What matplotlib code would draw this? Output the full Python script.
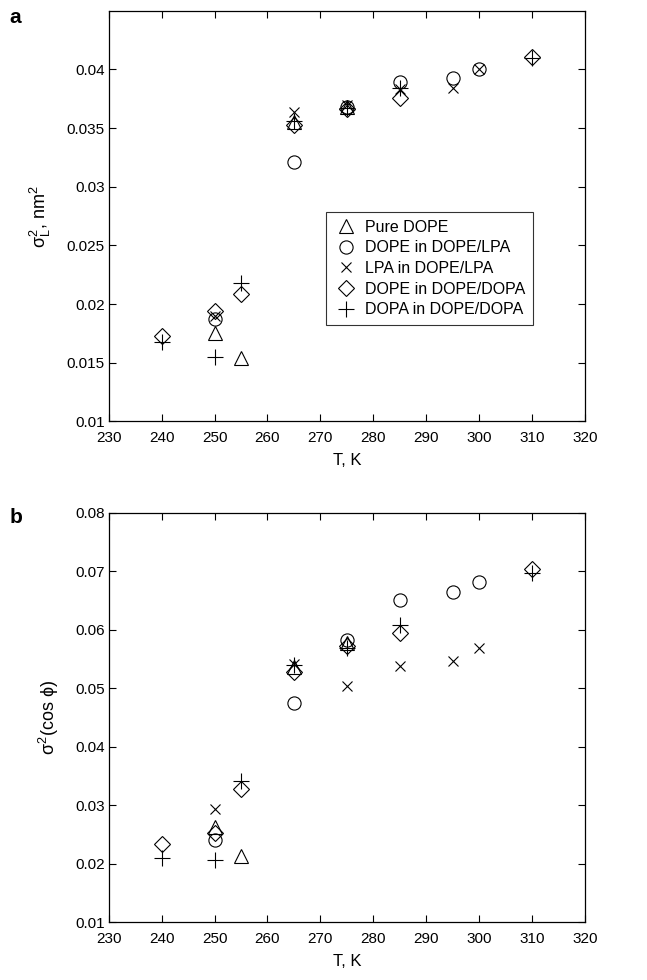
import matplotlib
matplotlib.use("Agg")
import matplotlib.pyplot as plt
from matplotlib.ticker import FuncFormatter

plt.rcParams["font.family"] = ["Liberation Sans", "DejaVu Sans"]
plt.rcParams["mathtext.fontset"] = "custom"
plt.rcParams["mathtext.rm"] = "Liberation Sans"
plt.rcParams["mathtext.it"] = "Liberation Sans"

# ── Data ──────────────────────────────────────────────────────
labels = ["Pure DOPE", "DOPE in DOPE/LPA", "LPA in DOPE/LPA",
          "DOPE in DOPE/DOPA", "DOPA in DOPE/DOPA"]

T_pure = [250, 255, 265, 275]
T_lpa = [250, 265, 275, 285, 295, 300]
T_dopa = [240, 250, 255, 265, 275, 285, 310]

# panel a: sigma^2_L, nm^2
a_pure = [0.0175, 0.0154, 0.0355, 0.0368]
a_dope_lpa = [0.0187, 0.0321, 0.0368, 0.0389, 0.0393, 0.0400]
a_lpa = [0.0190, 0.0364, 0.0370, 0.0383, 0.0384, 0.0400]
a_dope_dopa = [0.0173, 0.0194, 0.0209, 0.0353, 0.0366, 0.0376, 0.0411]
a_dopa = [0.0168, 0.0155, 0.0218, 0.0356, 0.0367, 0.0384, 0.0410]

# panel b: sigma^2(cos phi)
b_pure = [0.0263, 0.0213, 0.0536, 0.0577]
b_dope_lpa = [0.0241, 0.0474, 0.0583, 0.0651, 0.0664, 0.0682]
b_lpa = [0.0294, 0.0541, 0.0503, 0.0537, 0.0547, 0.0569]
b_dope_dopa = [0.0234, 0.0253, 0.0327, 0.0527, 0.0572, 0.0595, 0.0703]
b_dopa = [0.0210, 0.0206, 0.0341, 0.0539, 0.0569, 0.0608, 0.0696]

xticks = list(range(230, 321, 10))
a_yticks = [0.01, 0.015, 0.02, 0.025, 0.03, 0.035, 0.04]
b_yticks = [0.01, 0.02, 0.03, 0.04, 0.05, 0.06, 0.07, 0.08]

styles = [
    dict(marker="^", ms=10),
    dict(marker="o", ms=9.5),
    dict(marker="x", ms=7),
    dict(marker="D", ms=8),
    dict(marker="+", ms=11),
]


def draw(ax, xs, ys):
    for x, y, st, lab in zip(xs, ys, styles, labels):
        ax.plot(x, y, linestyle="none", color="black", mfc="none",
                mec="black", mew=0.8, label=lab, **st)
    ax.set_xlim(230, 320)
    ax.set_xticks(xticks)
    ax.tick_params(direction="in", top=True, right=True, labelsize=11,
                   length=5, width=0.8, pad=3)
    ax.tick_params(axis="x", pad=7)
    ax.yaxis.set_major_formatter(FuncFormatter(lambda v, p: f"{v:g}"))
    for s in ax.spines.values():
        s.set_linewidth(0.9)
    ax.set_xlabel("T, K", fontsize=12, labelpad=6)


fig = plt.figure(figsize=(6.47, 9.8), dpi=100)
ax1 = fig.add_axes([0.168, 0.570, 0.736, 0.419])
ax2 = fig.add_axes([0.168, 0.059, 0.736, 0.418])

draw(ax1, [T_pure, T_lpa, T_lpa, T_dopa, T_dopa],
     [a_pure, a_dope_lpa, a_lpa, a_dope_dopa, a_dopa])
ax1.set_ylim(0.01, 0.045)
ax1.set_yticks(a_yticks)
ax1.set_ylabel(r"$\sigma^2_L$, nm$^2$", fontsize=13, labelpad=10)

leg = ax1.legend(loc="upper left", bbox_to_anchor=(0.44, 0.53),
                 fontsize=11.5, frameon=True, fancybox=False,
                 edgecolor="black", handletextpad=0.4, borderpad=0.5,
                 labelspacing=0.35, handlelength=1.5)
leg.get_frame().set_linewidth(0.8)

draw(ax2, [T_pure, T_lpa, T_lpa, T_dopa, T_dopa],
     [b_pure, b_dope_lpa, b_lpa, b_dope_dopa, b_dopa])
ax2.set_ylim(0.01, 0.08)
ax2.set_yticks(b_yticks)
ax2.set_ylabel(r"$\sigma^2$(cos $\phi$)", fontsize=13, labelpad=10)

fig.text(0.015, 0.982, "a", fontsize=15, fontweight="bold", va="center")
fig.text(0.015, 0.472, "b", fontsize=15, fontweight="bold", va="center")

fig.savefig("out.png", dpi=100)
